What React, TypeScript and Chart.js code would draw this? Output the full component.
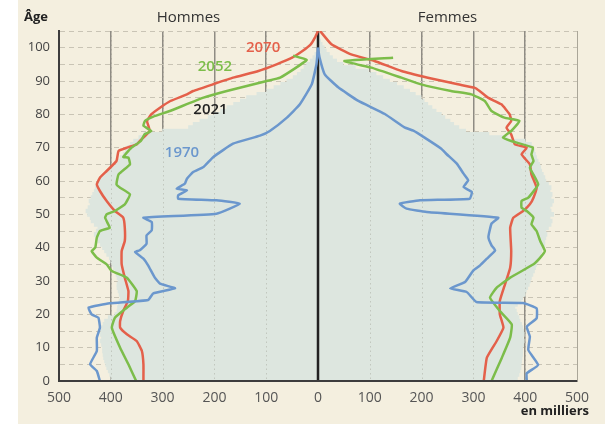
import React, { useEffect, useRef } from "react";
import { Chart, registerables } from "chart.js";

Chart.register(...registerables);

// ---- Data (thousands of people) ----
const AGES = Array.from({ length: 106 }, (_, i) => i); // single-year ages 0..105

const MEN_2021 = [
  395, 400, 402, 405, 408, 410, 412, 414, 415, 416,
  416, 418, 420, 418, 420, 419, 418, 415, 412, 405,
  392, 388, 387, 386, 384, 382, 384, 386, 388, 388,
  386, 388, 390, 392, 395, 398, 400, 403, 408, 412,
  416, 420, 425, 428, 432, 428, 425, 432, 438, 440,
  445, 448, 444, 440, 442, 438, 435, 432, 430, 428,
  425, 420, 412, 405, 398, 390, 386, 382, 376, 372,
  368, 362, 356, 346, 336, 300, 250, 241, 228, 212,
  200, 188, 176, 163, 150, 138, 118, 99, 85, 72,
  60, 48, 40, 33, 27, 22, 15, 10, 6, 3,
  2, 1, 1, 0.5, 0.3, 0,
];
const WOMEN_2021 = [
  380, 385, 388, 390, 392, 392, 393, 394, 395, 395,
  395, 397, 398, 396, 398, 397, 395, 393, 390, 388,
  385, 383, 380, 385, 392, 395, 400, 402, 405, 408,
  410, 412, 415, 418, 420, 422, 425, 428, 430, 432,
  435, 438, 438, 440, 442, 440, 445, 450, 452, 448,
  455, 450, 448, 452, 455, 450, 452, 448, 450, 445,
  440, 438, 435, 432, 430, 428, 425, 422, 420, 418,
  415, 412, 400, 365, 330, 285, 272, 262, 255, 245,
  238, 228, 220, 212, 205, 199, 188, 177, 165, 152,
  138, 125, 112, 97, 72, 48, 36, 28, 22, 16,
  12, 8, 5, 3, 2, 1,
];

const AGES_1970_M = [0, 3, 5, 9, 13, 16, 19, 20, 22, 23.3, 24.3, 26.3, 27.8, 29.2, 31, 34.7, 36.7, 38.7, 39.2, 41.2, 43.7, 45.2, 47.7, 49, 50.2, 53.2, 54.2, 54.7, 55.7, 57.2, 57.7, 59.2, 60.7, 62.7, 64.2, 67.2, 71.2, 73.6, 75, 79, 83, 89, 95, 100];
const MEN_1970 = [421, 427, 440, 427, 427, 421, 424, 437, 443, 402, 328, 318, 276, 305, 315, 328, 337, 353, 344, 331, 331, 321, 321, 337, 196, 151, 196, 270, 270, 253, 273, 257, 253, 241, 221, 202, 164, 112, 93, 60, 35, 12, 3, 0];

const AGES_1970_F = [0, 2.3, 4.8, 9.3, 13.3, 16.3, 18.8, 21.8, 23.4, 23.7, 26.7, 27.8, 29.7, 33.2, 34.7, 36.7, 39.2, 40.7, 43.2, 47.2, 49, 50.7, 51.7, 53.2, 54.2, 54.7, 56.7, 58.2, 60.2, 62.2, 65.2, 68.1, 69.7, 73.1, 75.1, 76.1, 80.1, 84.1, 88.1, 92, 97, 100];
const WOMEN_1970 = [403, 403, 425, 406, 409, 403, 422, 422, 396, 306, 287, 255, 284, 300, 313, 326, 342, 335, 329, 335, 348, 210, 171, 158, 197, 293, 297, 281, 290, 281, 268, 248, 238, 205, 184, 167, 129, 77, 39, 13, 3, 0];

const AGES_2052_M = [0, 5, 10, 16, 19, 22, 24, 27, 31, 33, 35, 37, 39, 40, 43, 45, 46, 47, 49, 50, 51, 53, 56, 58, 59, 62, 65, 67, 67.2, 70, 72, 74, 75, 76.6, 78, 79.3, 81, 85, 87, 90, 91, 96.3, 97.6];
const MEN_2052 = [351, 366, 382, 398, 392, 369, 353, 350, 369, 398, 408, 427, 437, 430, 427, 421, 402, 405, 411, 408, 392, 373, 363, 382, 389, 385, 363, 366, 376, 360, 342, 335, 322, 337, 334, 318, 286, 221, 176, 99, 73, 22, 48];

const AGES_2052_F = [0, 7, 13, 17, 21, 25, 28, 31, 35, 37, 39, 42, 45, 47, 49, 51, 52, 54, 55, 59, 64, 66, 68, 70, 72, 73, 75, 78, 79, 81, 84, 86, 87, 89, 91, 94, 96, 97];
const WOMEN_2052 = [335, 355, 371, 374, 351, 332, 345, 371, 416, 429, 438, 429, 422, 412, 416, 403, 393, 393, 406, 425, 409, 416, 412, 415, 373, 357, 373, 389, 360, 335, 322, 296, 257, 199, 161, 103, 51, 145];

const AGES_2070_M = [0, 5, 9, 12, 14, 16, 18, 21, 24, 27, 31, 35, 39, 42, 46, 49, 51, 54, 57, 59, 61, 63, 66, 69, 70, 71, 72, 75, 78, 80, 82, 84, 86, 87, 89, 91, 93, 95, 97, 99, 101, 103, 105];
const MEN_2070 = [337, 337, 340, 350, 369, 382, 382, 376, 367, 366, 373, 379, 379, 373, 373, 376, 392, 408, 421, 427, 421, 408, 389, 385, 369, 350, 344, 325, 330, 322, 305, 285, 253, 241, 203, 164, 115, 80, 50, 30, 14, 6, 0];

const AGES_2070_F = [0, 7, 12, 16, 20, 24, 29, 34, 39, 46, 49, 51, 53, 55, 58, 62, 65, 68, 70, 71, 74, 76, 78, 80, 83, 85, 87, 88, 89, 91, 93, 96, 98, 101, 105];
const WOMEN_2070 = [320, 326, 345, 358, 351, 351, 361, 371, 373, 371, 377, 396, 409, 416, 422, 412, 409, 393, 403, 380, 373, 364, 373, 370, 354, 328, 312, 302, 270, 212, 161, 109, 64, 26, 4];

const X_GRID = [-400, -300, -200, -100, 100, 200, 300, 400];

const YEAR_LABELS = [
  { text: "2070", x: -106, y: 100, color: "#e4604a" },
  { text: "2052", x: -199, y: 94.2, color: "#7cbd4a" },
  { text: "2021", x: -207.5, y: 81.5, color: "#222222" },
  { text: "1970", x: -262.5, y: 68.5, color: "#6b97cd" },
];

const C_RED = "#e4604a";
const C_GREEN = "#7cbd4a";
const C_BLUE = "#6b97cd";
const C_SHADE = "#dde6df";
const C_BG = "#f4efdf";
const FONT = "'Open Sans', sans-serif";

function pts(ages: number[], vals: number[], sign: number) {
  return ages.map((a, i) => ({ x: sign * vals[i], y: a }));
}

function line(data: { x: number; y: number }[], color: string) {
  return {
    type: "scatter" as const,
    data,
    showLine: true,
    borderColor: color,
    backgroundColor: color,
    borderWidth: 2.5,
    pointRadius: 0,
    tension: 0.12,
    order: 1,
  };
}

const decorPlugin = {
  id: "decor",
  beforeDraw(chart: any) {
    const { ctx } = chart;
    ctx.save();
    ctx.fillStyle = C_BG;
    ctx.fillRect(0, 0, chart.width, chart.height);
    ctx.restore();
  },
  afterDatasetDraw(chart: any, args: any) {
    if (args.meta.type !== "bar") return;
    const { ctx, chartArea, scales } = chart;
    const x = scales.x;
    ctx.save();
    ctx.strokeStyle = "rgba(140,140,128,0.35)";
    ctx.lineWidth = 1;
    ctx.setLineDash([1.5, 3]);
    for (const v of X_GRID) {
      const px = Math.round(x.getPixelForValue(v)) + 0.5;
      ctx.beginPath();
      ctx.moveTo(px, chartArea.top);
      ctx.lineTo(px, chartArea.bottom);
      ctx.stroke();
    }
    ctx.setLineDash([]);
    ctx.strokeStyle = "#222";
    ctx.lineWidth = 2.5;
    const cx = x.getPixelForValue(0);
    ctx.beginPath();
    ctx.moveTo(cx, chartArea.top);
    ctx.lineTo(cx, chartArea.bottom);
    ctx.stroke();
    ctx.restore();
  },
  afterDraw(chart: any) {
    const { ctx, scales } = chart;
    const x = scales.x;
    const y = scales.y;
    ctx.save();
    ctx.textBaseline = "alphabetic";
    ctx.fillStyle = "#333";
    ctx.font = `15px ${FONT}`;
    ctx.textAlign = "center";
    ctx.fillText("Hommes", x.getPixelForValue(-250), 22);
    ctx.fillText("Femmes", x.getPixelForValue(250), 22);
    ctx.fillStyle = "#222";
    ctx.font = `bold 13px ${FONT}`;
    ctx.textAlign = "left";
    ctx.fillText("Âge", 6, 21);
    ctx.textAlign = "right";
    ctx.fillText("en milliers", 571, 415);
    ctx.font = `600 15px ${FONT}`;
    ctx.textAlign = "center";
    ctx.textBaseline = "middle";
    for (const l of YEAR_LABELS) {
      ctx.fillStyle = l.color;
      ctx.fillText(l.text, x.getPixelForValue(l.x), y.getPixelForValue(l.y));
    }
    ctx.restore();
  },
};

export default function App() {
  const ref = useRef<HTMLCanvasElement>(null);
  useEffect(() => {
    Chart.defaults.font.family = FONT;
    const chart = new Chart(ref.current as HTMLCanvasElement, {
      type: "scatter",
      data: {
        datasets: [
          {
            type: "bar",
            label: "2021",
            indexAxis: "y",
            data: AGES.map((a, i) => ({ y: a, x: [-MEN_2021[i], WOMEN_2021[i]] })),
            backgroundColor: C_SHADE,
            borderWidth: 0,
            barThickness: 4,
            order: 10,
          } as any,
          line(pts(AGES_1970_M, MEN_1970, -1), C_BLUE),
          line(pts(AGES_1970_F, WOMEN_1970, 1), C_BLUE),
          line(pts(AGES_2052_M, MEN_2052, -1), C_GREEN),
          line(pts(AGES_2052_F, WOMEN_2052, 1), C_GREEN),
          line(pts(AGES_2070_M, MEN_2070, -1), C_RED),
          line(pts(AGES_2070_F, WOMEN_2070, 1), C_RED),
        ],
      },
      options: {
        responsive: false,
        animation: false,
        devicePixelRatio: 1,
        events: [],
        layout: { padding: { top: 31, right: 28, bottom: 0, left: 0 } },
        plugins: { legend: { display: false }, tooltip: { enabled: false } },
        scales: {
          x: {
            type: "linear",
            min: -500,
            max: 500,
            offset: false,
            afterFit: (s: any) => {
              s.height = 43;
            },
            ticks: {
              stepSize: 100,
              autoSkip: false,
              maxRotation: 0,
              padding: 9,
              color: "#555",
              font: { size: 14 },
              callback: (v: any) => String(Math.abs(Number(v))),
            },
            grid: {
              offset: false,
              drawTicks: false,
              color: (c: any) => {
                const v = c.tick ? c.tick.value : 0;
                if (v === -500 || v === 0) return "rgba(0,0,0,0)";
                if (v === 500) return "#aaa698";
                return "#8f8c84";
              },
              lineWidth: (c: any) => (c.tick && c.tick.value === 500 ? 1 : 1.5),
            },
            border: { display: true, color: "#3d3d3d", width: 2, z: 1 },
          },
          y: {
            type: "linear",
            min: 0,
            max: 105,
            offset: false,
            afterFit: (s: any) => {
              s.width = 41;
            },
            ticks: {
              stepSize: 5,
              autoSkip: false,
              padding: 9,
              color: "#444",
              font: { size: 13 },
              callback: (v: any) => (Number(v) % 10 === 0 ? String(v) : ""),
            },
            grid: {
              offset: false,
              drawTicks: false,
              color: (c: any) => (c.tick && c.tick.value === 0 ? "rgba(0,0,0,0)" : "#c9c4b5"),
              lineWidth: 1,
            },
            border: { display: true, color: "#3d3d3d", width: 2, dash: [5, 4], z: 1 },
          },
        },
      } as any,
      plugins: [decorPlugin],
    });
    return () => chart.destroy();
  }, []);
  return (
    <div style={{ position: "absolute", left: 18, top: 0, width: 587, height: 424 }}>
      <canvas ref={ref} width={587} height={424} style={{ display: "block" }} />
    </div>
  );
}
